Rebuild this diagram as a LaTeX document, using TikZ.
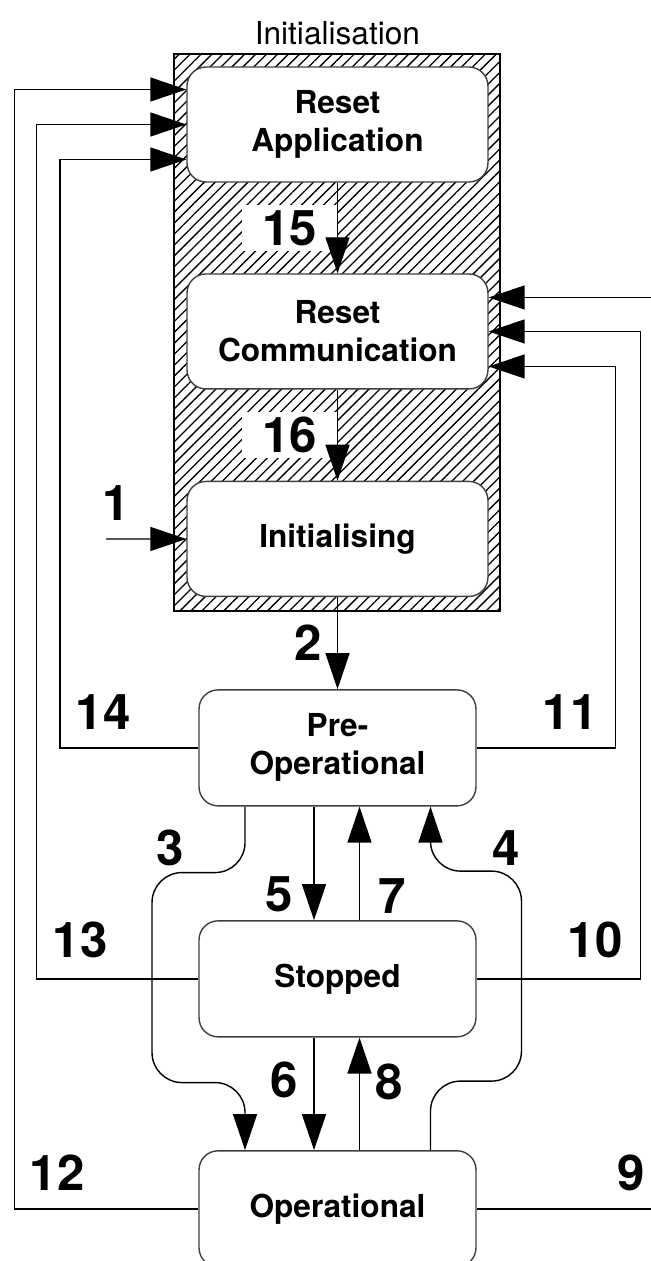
\documentclass[tikz,border=0pt]{standalone}
\usepackage{fontspec}
\setmainfont{TeX Gyre Heros}
\usetikzlibrary{arrows.meta,patterns.meta}
\tikzset{
    node distance=4.15cm, % centre to centre spacing of the states. Change per node if necessary.
    }

\begin{document}
\begin{tikzpicture}[x=0.02cm, y=-0.02cm,
statenode/.style={rectangle, rounded corners=0.38cm, draw=black!75, line width=0.8pt, fill=white, align=center, minimum width=5.54cm, minimum height=2.32cm, font=\bfseries\fontsize{18}{21.6}\selectfont},
initnode/.style={statenode, minimum width=6.02cm, minimum height=2.3cm},
hatchbox/.style={rectangle, draw=black, line width=1.1pt, pattern={Lines[angle=45,distance=4.4pt,line width=0.75pt]}, minimum width=6.52cm, minimum height=11.13cm, inner sep=0pt},
numlabel/.style={font=\bfseries\fontsize{28}{30}\selectfont, inner sep=0.3cm},
clearlabel/.style={numlabel, behind path, fill=white, inner xsep=0.4cm, inner ysep=0.1cm},
arr/.style={line width=0.8pt, -{Triangle[length=0.72cm,width=0.48cm]}},
]
\useasboundingbox (0,0) rectangle (651,1261);
\clip (0,0) rectangle (651,1261);

\node[hatchbox, label={[name=initlabel, font=\fontsize{18}{21.6}\selectfont, label distance=0.05cm]above:Initialisation}] (initialisation) at (337.4,332.5) {};

\node[initnode] (resetapp) at (337.5,124.5) {Reset\\Application};
\node[initnode] (resetcomm) [below of=resetapp, node distance=4.14cm] {Reset\\Communication};
\node[initnode] (initialising) [below of=resetcomm] {Initialising};
\node[statenode] (preop) [below of=initialising, node distance=4.18cm] {Pre-\\Operational};
\node[statenode] (stopped) [below of=preop, node distance=4.62cm] {Stopped};
\node[statenode] (operational) [below of=stopped, node distance=4.6cm] {Operational};

\coordinate (entry) at (106,539);
\node[numlabel] (l1) at (116,503) {1};
\node[numlabel] (l3) at (170,848) {3};
\node[numlabel] (l4) at (506,848) {4};
\node[numlabel] (l14) at (103,712) {14};
\node[numlabel] (l11) at (570,712) {11};
\node[numlabel] (l13) at (80,940) {13};
\node[numlabel] (l10) at (595,940) {10};
\node[numlabel] (l12) at (57,1173) {12};
\node[numlabel] (l9) at (631,1173) {9};

\draw[arr] (entry) -- (initialising);
\draw[arr] (resetapp) -- node[clearlabel, left] (l15) {15} (resetcomm);
\draw[arr] (resetcomm) -- node[clearlabel, left] (l16) {16} (initialising);
\draw[arr] (initialising) -- node[numlabel, left] (l2) {2} (preop);

\draw[arr] ([xshift=-0.47cm]preop.south) -- node[numlabel, left=0.1cm, pos=0.77] (l5) {5} ([xshift=-0.47cm]stopped.north);
\draw[arr] ([xshift=0.44cm]stopped.north) -- node[numlabel, right=0.06cm, pos=0.21] (l7) {7} ([xshift=0.44cm]preop.south);
\draw[arr] ([xshift=-0.47cm]stopped.south) -- node[numlabel, left, pos=0.38] (l6) {6} ([xshift=-0.47cm]operational.north);
\draw[arr] ([xshift=0.44cm]operational.north) -- node[numlabel, right, pos=0.61] (l8) {8} ([xshift=0.44cm]stopped.south);

\draw[arr, rounded corners=0.6cm] ([xshift=-1.85cm]preop.south) -- ++(0,66) -- ++(-93,0) -- ++(0,210) -- ++(93,0) -- ([xshift=-1.85cm]operational.north);
\draw[arr, rounded corners=0.6cm] ([xshift=1.86cm]operational.north) -- ++(0,-69) -- ++(91,0) -- ++(0,-210) -- ++(-91,0) -- ([xshift=1.86cm]preop.south);

\draw[arr] (preop.west) -- ++(-138.5,0) |- ([yshift=-0.7cm]resetapp.west);
\draw[arr] (stopped.west) -- ++(-162,0) |- (resetapp.west);
\draw[arr] (operational.west) -- ++(-184,0) |- ([yshift=0.7cm]resetapp.west);
\draw[arr] (preop.east) -- ++(139,0) |- ([yshift=-0.7cm]resetcomm.east);
\draw[arr] (stopped.east) -- ++(164,0) |- (resetcomm.east);
\draw[arr] (operational.east) -- ++(190,0) |- ([yshift=0.68cm]resetcomm.east);
\end{tikzpicture}
\end{document}
